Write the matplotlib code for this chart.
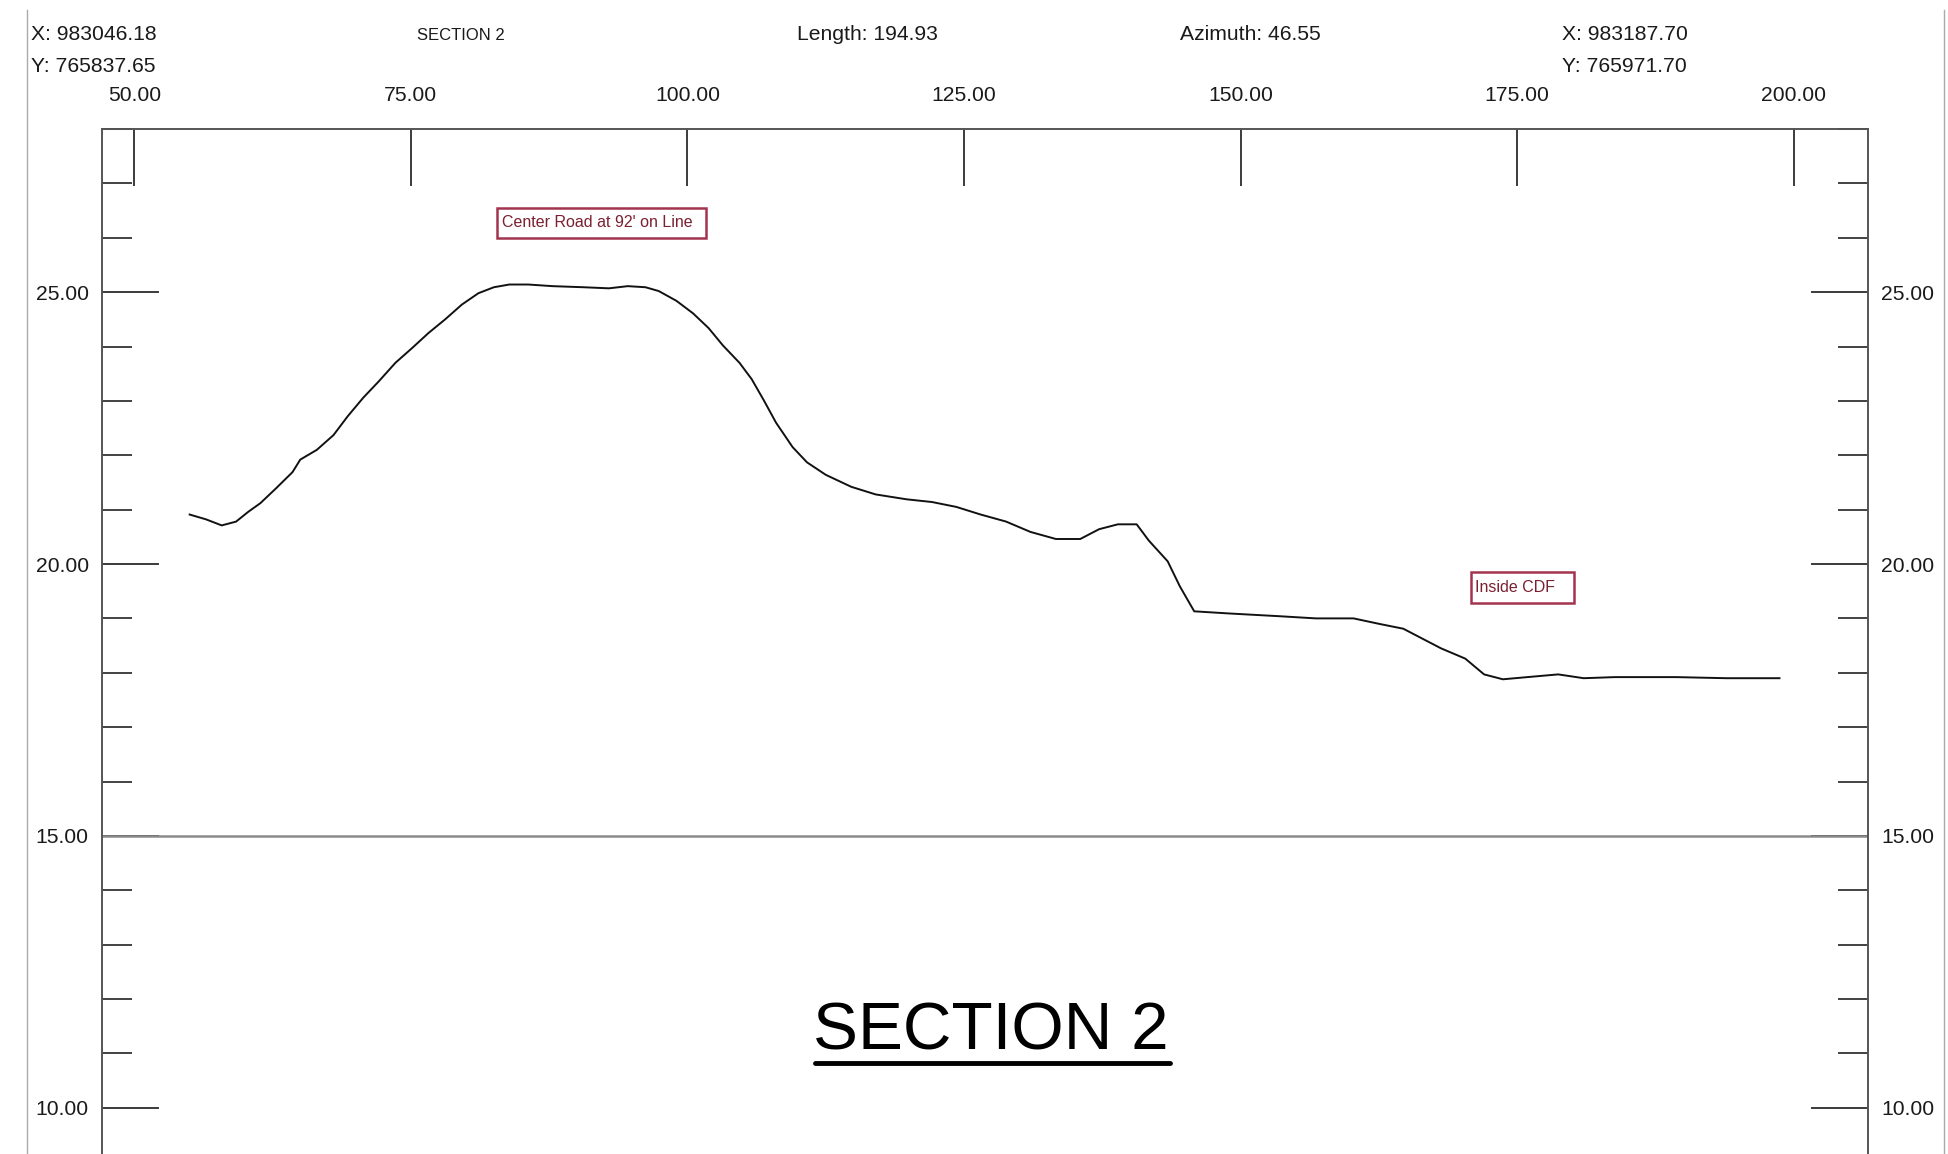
import matplotlib.pyplot as plt
from matplotlib.lines import Line2D
from matplotlib.patches import Rectangle
from matplotlib.ticker import MultipleLocator, FormatStrFormatter

plt.rcParams['font.family'] = ['Liberation Sans', 'DejaVu Sans']

# Profile (station, elevation)
station = [55.0, 56.5, 57.9, 59.2, 60.3, 61.4, 62.8, 64.3, 65.0, 66.5, 68.0,
           69.3, 70.7, 72.1, 73.6, 75.1, 76.6, 78.1, 79.6, 81.1, 82.5, 83.9,
           85.6, 87.8, 90.6, 92.9, 94.6, 96.2, 97.4, 99.0, 100.5, 101.9, 103.2,
           104.7, 105.8, 106.9, 108.0, 109.5, 110.8, 112.5, 114.8, 117.0, 119.8,
           122.1, 124.3, 126.5, 128.8, 131.0, 133.3, 135.5, 137.2, 138.9, 140.6,
           141.7, 143.4, 144.5, 145.8, 149.0, 153.5, 156.8, 160.2, 162.5, 164.7,
           166.4, 168.1, 170.3, 172.0, 173.7, 175.9, 178.7, 181.0, 183.8, 189.4,
           193.9, 198.7]
elevation = [20.91, 20.82, 20.71, 20.78, 20.96, 21.12, 21.39, 21.69, 21.92,
             22.10, 22.37, 22.72, 23.06, 23.36, 23.70, 23.97, 24.25, 24.50,
             24.77, 24.98, 25.09, 25.14, 25.14, 25.11, 25.09, 25.07, 25.11,
             25.09, 25.02, 24.84, 24.61, 24.34, 24.02, 23.70, 23.40, 23.01,
             22.60, 22.15, 21.87, 21.64, 21.42, 21.28, 21.19, 21.14, 21.05,
             20.91, 20.78, 20.59, 20.46, 20.46, 20.64, 20.73, 20.73, 20.43,
             20.05, 19.59, 19.13, 19.09, 19.04, 19.00, 19.00, 18.90, 18.81,
             18.63, 18.45, 18.26, 17.97, 17.88, 17.92, 17.97, 17.90, 17.92,
             17.92, 17.90, 17.90]

x_ticks = [50, 75, 100, 125, 150, 175, 200]

start_xy = ('X: 983046.18', 'Y: 765837.65')
end_xy = ('X: 983187.70', 'Y: 765971.70')
length_txt = 'Length: 194.93'
azimuth_txt = 'Azimuth: 46.55'
section_name = 'SECTION 2'

# label, left x, bottom y, width, height (data units)
notes = [("Center Road at 92' on Line", 82.8, 26.0, 18.9, 0.55),
         ('Inside CDF', 170.8, 19.29, 9.3, 0.57)]

W, H = 1948, 1154
fig = plt.figure(figsize=(W / 100, H / 100), dpi=100)
ax = fig.add_axes([102 / W, 0, (1868 - 102) / W, 1 - 129 / H])

ax.plot(station, elevation, color='#111111', lw=1.4)
ax.axhline(15, color='#8a8a8a', lw=1.8)
ax.set_xlim(47.08, 206.7)
ax.set_ylim(9.15, 28)

ax.xaxis.tick_top()
ax.set_xticks(x_ticks)
ax.xaxis.set_major_formatter(FormatStrFormatter('%.2f'))
ax.tick_params(axis='x', direction='in', length=41, width=1.2, pad=17,
               labelsize=15.2, top=True, bottom=False, colors='#1a1a1a')

ax.yaxis.set_major_locator(MultipleLocator(5))
ax.yaxis.set_minor_locator(MultipleLocator(1))
ax.yaxis.set_major_formatter(FormatStrFormatter('%.2f'))
ax.tick_params(axis='y', which='major', direction='in', length=41, width=1.2,
               pad=9.5, labelsize=15.2, left=True, right=True,
               labelleft=True, labelright=True, colors='#1a1a1a')
ax.tick_params(axis='y', which='minor', direction='in', length=21.6,
               width=1.2, left=True, right=True, colors='#222222')

ax.spines['bottom'].set_visible(False)
for s in ['top', 'left', 'right']:
    ax.spines[s].set_color('#555555')
    ax.spines[s].set_linewidth(1.4)

for label, x0, y0, w, h in notes:
    ax.add_patch(Rectangle((x0, y0), w, h, fill=False, ec='#a3344f', lw=1.8))
    ax.text(x0 + 0.4, y0 + h / 2, label, ha='left', va='center',
            fontsize=11.5, color='#7a2030')

# header
hdr = dict(fontsize=15.2, color='#1a1a1a', va='center')
fig.text(31 / W, 1 - 35 / H, start_xy[0], ha='left', **hdr)
fig.text(31 / W, 1 - 66 / H, start_xy[1], ha='left', **hdr)
fig.text(1562 / W, 1 - 35 / H, end_xy[0], ha='left', **hdr)
fig.text(1562 / W, 1 - 66 / H, end_xy[1], ha='left', **hdr)
fig.text(867 / W, 1 - 35 / H, length_txt, ha='center', **hdr)
fig.text(1250 / W, 1 - 35 / H, azimuth_txt, ha='center', **hdr)
fig.text(461 / W, 1 - 35 / H, section_name, ha='center', va='center',
         fontsize=12, color='#1a1a1a')

# big title with underline
fig.text(991 / W, 1 - 1032 / H, section_name, ha='center', va='center',
         fontsize=48.5, color='black')
fig.add_artist(Line2D([815 / W, 1170 / W], [1 - 1063 / H] * 2,
                      color='black', lw=3.5, solid_capstyle='round'))

# page frame
fig.add_artist(Line2D([27 / W] * 2, [0, 1 - 10 / H], color='#aaaaaa', lw=1))
fig.add_artist(Line2D([1944 / W] * 2, [0, 1 - 10 / H], color='#aaaaaa', lw=1))

fig.savefig('out.png', dpi=100)
